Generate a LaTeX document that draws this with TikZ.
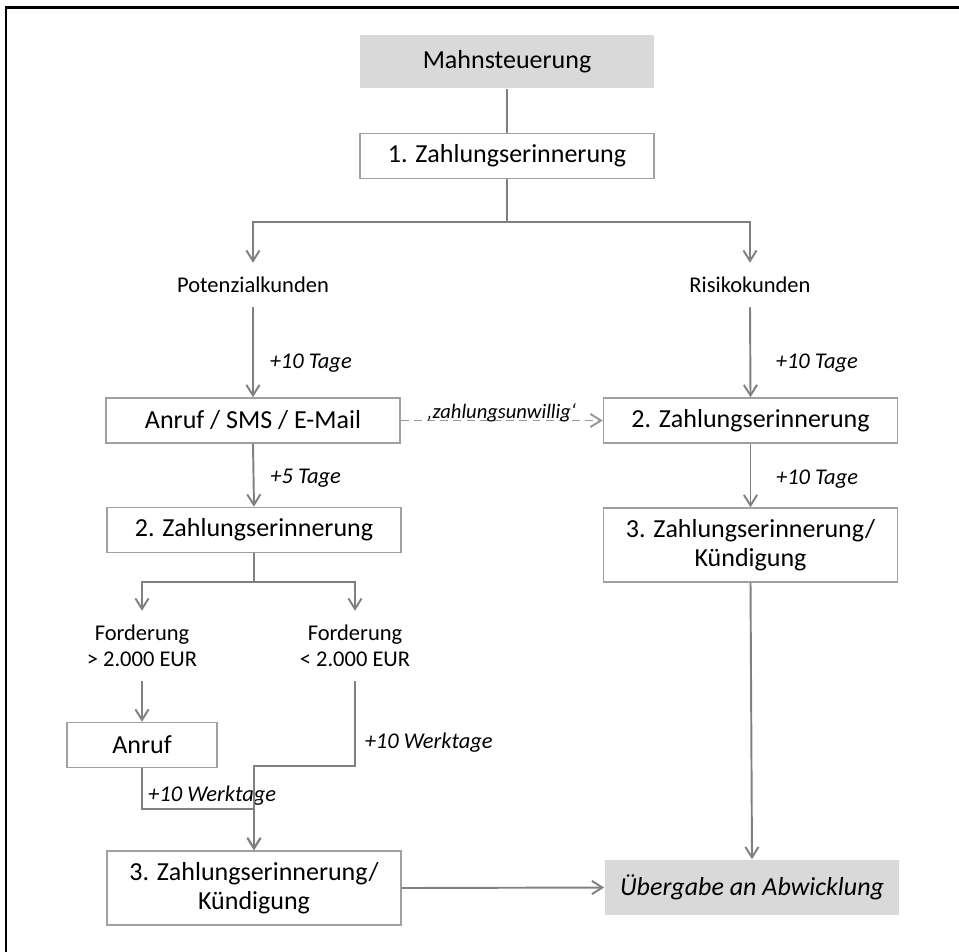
\documentclass[tikz,border=0pt]{standalone}
\usepackage{fontspec}
\setmainfont{Carlito}
\usepackage{tikz}
\usetikzlibrary{arrows.meta}
\definecolor{lineGrey}{HTML}{808080}
\definecolor{boxGrey}{HTML}{A0A0A0}
\definecolor{fillGrey}{HTML}{D9D9D9}
\definecolor{dashGrey}{HTML}{999999}

\begin{document}
\begin{tikzpicture}[x=0.02cm, y=-0.02cm,
    box/.style={draw=boxGrey, line width=0.9pt, fill=white, minimum width=5.88cm,
                minimum height=0.9cm, align=center, inner sep=0pt,
                font=\fontsize{14.8}{16.5}\selectfont},
    hbox/.style={box, draw=none, fill=fillGrey},
    cat/.style={inner xsep=2pt, inner ysep=0.28cm, align=center,
                font=\fontsize{12.8}{14.8}\selectfont},
    lab/.style={inner sep=1pt, text=black, font=\fontsize{12.8}{15}\selectfont\itshape},
    link/.style={line width=1.1pt, lineGrey},
    arr/.style={link, -{Straight Barb[length=6pt, width=7.5pt]}},
  ]
    \useasboundingbox (0,0) rectangle (959,951);
    \clip (0,0) rectangle (959,951);
    \draw[line width=1.6pt] (6,7.5) rectangle (1100,1100);

    \node[hbox, minimum height=1.06cm] (mahn) at (507,61.5) {Mahnsteuerung};
    \node[box] (zr1) at (507,156) {1. Zahlungserinnerung};
    \node[cat] (pot)  at (253,285) {Potenzialkunden};
    \node[cat] (risk) at (750,285) {Risikokunden};
    \node[box] (kontakt) at (253,420.5) {Anruf / SMS / E-Mail};
    \node[box] (zr2r) at (750.5,420.5) {2. Zahlungserinnerung};
    \node[box] (zr2l) at (254,530) {2. Zahlungserinnerung};
    \node[box, minimum height=1.48cm] (zr3r) at (750.5,545)
      {3. Zahlungserinnerung/\\Kündigung};
    \node[cat] (fhoch) at (142,646) {Forderung\\> 2.000 EUR};
    \node[cat] (fnied) at (355,646) {Forderung\\< 2.000 EUR};
    \node[box, minimum width=3cm] (anruf) at (142,745) {Anruf};
    \node[box, minimum height=1.48cm] (zr3l) at (254,888)
      {3. Zahlungserinnerung/\\Kündigung};
    \node[hbox, minimum height=1.1cm] (abw) at (752,887.5)
      {\itshape Übergabe an Abwicklung};

    \coordinate (split1) at (507,222);
    \coordinate (split2) at (254,582);
    \coordinate (bendL) at (142,809);
    \coordinate (bendR) at (355,766);

    \draw[link] (mahn.south) -- (zr1.north);
    \draw[link] (zr1.south) -- (split1);
    \draw[arr] (split1) -| (pot.north);
    \draw[arr] (split1) -| (risk.north);
    \draw[arr] (pot.south) -- node[lab, right=8pt, pos=0.62] {+10 Tage} (kontakt.north);
    \draw[arr] (kontakt.south) -- node[lab, right=8pt, pos=0.55] {+5 Tage} (zr2l.north);
    \draw[arr] (risk.south) -- node[lab, right=13pt, pos=0.62] {+10 Tage} (zr2r.north);
    \draw[arr] (zr2r.south) -- node[lab, right=13pt, pos=0.55] {+10 Tage} (zr3r.north);
    \draw[arr, dashGrey, dash pattern=on 4.5pt off 3pt] (kontakt.east) --
      node[above=-1.5pt, inner sep=0pt, text=black,
           font=\fontsize{11.7}{13}\selectfont\itshape] {‚zahlungsunwillig‘} (zr2r.west);
    \draw[link] (zr2l.south) -- (split2);
    \draw[arr] (split2) -| (fhoch.north);
    \draw[arr] (split2) -| (fnied.north);
    \draw[arr] (fhoch.south) -- (anruf.north);
    \draw[arr] (anruf.south) -- node[lab, right=2pt, pos=0.67] {+10 Werktage} (bendL) -| (zr3l.north);
    \draw[arr] (fnied.south) -- node[lab, right=4pt, pos=0.72] {+10 Werktage} (bendR) -| (zr3l.north);
    \draw[arr] (zr3r.south) -- (abw.north);
    \draw[arr] (zr3l.east) -- (abw.west);
  \end{tikzpicture}
\end{document}
